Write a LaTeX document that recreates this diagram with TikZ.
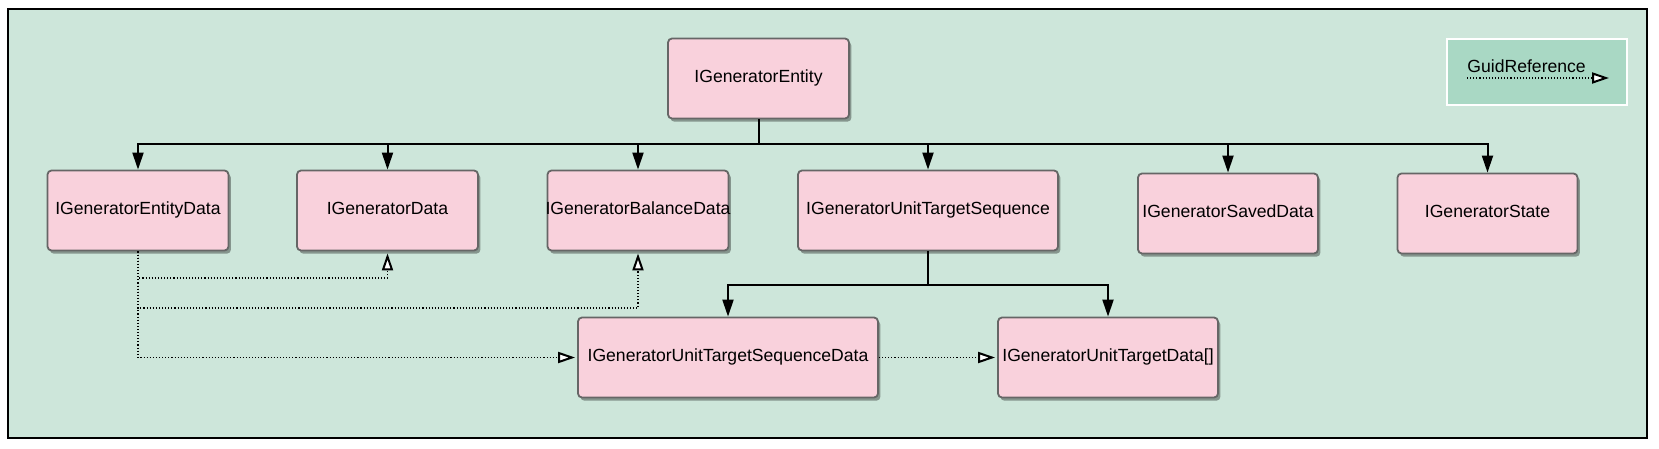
\documentclass[tikz,border=0pt]{standalone}
\usepackage{fontspec}
\setmainfont{Liberation Sans}
\usetikzlibrary{arrows.meta,shadows}
\definecolor{genMint}{HTML}{CDE6DA}
\definecolor{genLegend}{HTML}{A9D8C4}
\definecolor{genPink}{HTML}{F9D1DC}
\definecolor{genGray}{HTML}{666666}
\tikzset{
  gen frame/.style={draw=black, fill=genMint, line width=1pt},
  gen box/.style={rectangle, rounded corners=2pt, draw=genGray, fill=genPink, line width=0.9pt,
    minimum width=90.5pt, minimum height=40pt, inner sep=0pt,
    text height=6.6pt, text depth=3pt,
    font=\fontsize{8.8}{10.5}\selectfont,
    drop shadow={shadow xshift=1.2pt, shadow yshift=-1.6pt, opacity=0.35, fill=black}},
  gen tree/.style={draw=black, line width=1pt, -{Triangle[length=8.5pt, width=5.5pt]}},
  gen ref/.style={draw=black, line width=0.55pt, dash pattern=on 0.55pt off 1pt,
    -{Triangle[open, length=8.5pt, width=5.5pt, line width=1pt, fill=white]}, shorten >=1pt},
  gen legend/.style={rectangle, draw=white, fill=genLegend, line width=1pt,
    minimum width=90pt, minimum height=33pt, inner sep=0pt},
  gen label/.style={font=\fontsize{8.8}{10.5}\selectfont, inner sep=0pt, anchor=west},
}

\begin{document}
\begin{tikzpicture}[x=0.5pt, y=-0.5pt]
  \useasboundingbox (0,0) rectangle (1659,449);
  \draw[gen frame] (7.5,9.5) rectangle (1647,438);

  % legend
  \node[gen legend] (legend) at (1537,72) {};
  \node[gen label] (legtxt) at (1467,66) {GuidReference};
  \coordinate (legA) at (1467,78);
  \coordinate (legB) at (1609,78);
  \draw[gen ref, shorten >=0pt] (legA) -- (legB);

  % root and first level
  \node[gen box] (ent) at (758.5,78.5) {IGeneratorEntity};
  \foreach \name/\x/\txt in {entdata/138/IGeneratorEntityData,
      data/387.5/IGeneratorData, bal/638/IGeneratorBalanceData}
    \node[gen box, inner xsep=-2pt] (\name) at (\x,210.5) {\txt};
  \node[gen box, minimum width=130pt] (uts) at (928,210.5) {IGeneratorUnitTargetSequence};
  \node[gen box, minimum width=90pt] (saved) at (1228,213.5) {IGeneratorSavedData};
  \node[gen box, minimum width=90pt] (state) at (1487.5,213.5) {IGeneratorState};

  % second level
  \node[gen box, minimum width=150pt] (utsdata) at (728,357.5) {IGeneratorUnitTargetSequenceData};
  \node[gen box, minimum width=110pt] (utd) at (1108,357.5) {IGeneratorUnitTargetData[]};

  % tree links
  \coordinate (bus) at (0,144);
  \coordinate (subbus) at (0,284.5);
  \foreach \n in {entdata,data,bal,uts,saved,state}
    \draw[gen tree] (ent.south) |- (\n.north |- bus) -- (\n.north);
  \foreach \n in {utsdata,utd}
    \draw[gen tree] (uts.south) |- (\n.north |- subbus) -- (\n.north);

  % guid references
  \coordinate (refA) at (0,278);
  \coordinate (refB) at (0,308);
  \draw[gen ref] (entdata.south) |- (data.south |- refA) -- (data.south);
  \draw[gen ref] (entdata.south) |- (bal.south |- refB) -- (bal.south);
  \draw[gen ref] (entdata.south) |- (utsdata.west);
  \draw[gen ref] (utsdata.east) -- (utd.west);
\end{tikzpicture}
\end{document}
